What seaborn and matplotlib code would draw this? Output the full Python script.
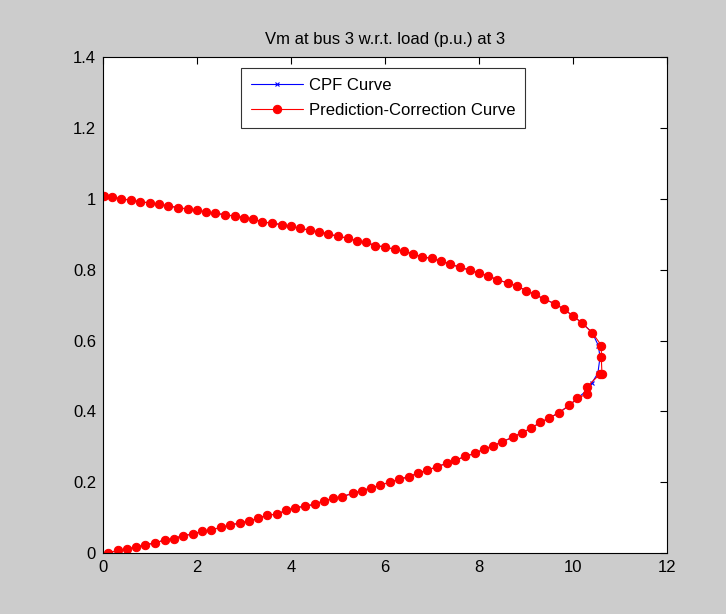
import numpy as np
import pandas as pd
import matplotlib
matplotlib.use("Agg")
import matplotlib.pyplot as plt
import seaborn as sns

# Prediction-Correction curve (load in p.u., voltage magnitude)
pc_load = [0.021, 0.198, 0.389, 0.589, 0.781, 1.000, 1.198, 1.389, 1.589, 1.802,
           2.000, 2.191, 2.389, 2.602, 2.802, 2.994, 3.191, 3.389, 3.602, 3.802,
           3.994, 4.185, 4.404, 4.602, 4.794, 4.994, 5.206, 5.404, 5.596, 5.794,
           6.006, 6.206, 6.398, 6.589, 6.787, 7.000, 7.198, 7.383, 7.589, 7.802,
           8.000, 8.198, 8.389, 8.611, 8.802, 9.000, 9.191, 9.389, 9.611, 9.802,
           9.994, 10.191, 10.411, 10.606, 10.602, 10.617, 10.574,
           10.291, 10.298, 10.096, 9.915, 9.709, 9.500, 9.302, 9.102, 8.909,
           8.717, 8.496, 8.304, 8.106, 7.915, 7.696, 7.496, 7.313, 7.106, 6.894,
           6.702, 6.511, 6.304, 6.113, 5.894, 5.702, 5.511, 5.313, 5.091, 4.900,
           4.702, 4.511, 4.291, 4.091, 3.904, 3.702, 3.496, 3.298, 3.100, 2.909,
           2.709, 2.504, 2.304, 2.113, 1.915, 1.702, 1.504, 1.313, 1.113, 0.894,
           0.702, 0.504, 0.313, 0.113]
pc_vm = [1.008, 1.004, 1.000, 0.996, 0.992, 0.988, 0.984, 0.980, 0.975, 0.971,
         0.967, 0.963, 0.959, 0.955, 0.951, 0.947, 0.943, 0.935, 0.931, 0.927,
         0.922, 0.917, 0.911, 0.906, 0.901, 0.894, 0.889, 0.881, 0.877, 0.868,
         0.864, 0.857, 0.852, 0.845, 0.836, 0.832, 0.824, 0.816, 0.807, 0.799,
         0.790, 0.783, 0.771, 0.763, 0.754, 0.741, 0.730, 0.717, 0.704, 0.689,
         0.670, 0.650, 0.622, 0.586, 0.553, 0.505, 0.505,
         0.469, 0.450, 0.437, 0.417, 0.397, 0.382, 0.369, 0.352, 0.340,
         0.327, 0.315, 0.303, 0.294, 0.282, 0.273, 0.262, 0.254, 0.244, 0.234,
         0.226, 0.216, 0.209, 0.201, 0.192, 0.184, 0.177, 0.169, 0.160, 0.155,
         0.148, 0.139, 0.132, 0.129, 0.121, 0.111, 0.107, 0.099, 0.090, 0.086,
         0.079, 0.073, 0.066, 0.062, 0.054, 0.050, 0.041, 0.038, 0.029, 0.024,
         0.017, 0.012, 0.008, 0.001]

# CPF curve (smoother around the nose)
cpf_load = [0.021, 0.198, 0.389, 0.589, 0.781, 1.000, 1.198, 1.389, 1.589, 1.802,
            2.000, 2.191, 2.389, 2.602, 2.802, 2.994, 3.191, 3.389, 3.602, 3.802,
            3.994, 4.185, 4.404, 4.602, 4.794, 4.994, 5.206, 5.404, 5.596, 5.794,
            6.006, 6.206, 6.398, 6.589, 6.787, 7.000, 7.198, 7.383, 7.589, 7.802,
            8.000, 8.198, 8.389, 8.611, 8.802, 9.000, 9.191, 9.389, 9.611, 9.802,
            9.994, 10.191, 10.411, 10.540, 10.575, 10.530, 10.400,
            10.280, 10.096, 9.915, 9.709, 9.500, 9.302, 9.102, 8.909,
            8.717, 8.496, 8.304, 8.106, 7.915, 7.696, 7.496, 7.313, 7.106, 6.894,
            6.702, 6.511, 6.304, 6.113, 5.894, 5.702, 5.511, 5.313, 5.091, 4.900,
            4.702, 4.511, 4.291, 4.091, 3.904, 3.702, 3.496, 3.298, 3.100, 2.909,
            2.709, 2.504, 2.304, 2.113, 1.915, 1.702, 1.504, 1.313, 1.113, 0.894,
            0.702, 0.504, 0.313, 0.113]
cpf_vm = [1.008, 1.004, 1.000, 0.996, 0.992, 0.988, 0.984, 0.980, 0.975, 0.971,
          0.967, 0.963, 0.959, 0.955, 0.951, 0.947, 0.943, 0.935, 0.931, 0.927,
          0.922, 0.917, 0.911, 0.906, 0.901, 0.894, 0.889, 0.881, 0.877, 0.868,
          0.864, 0.857, 0.852, 0.845, 0.836, 0.832, 0.824, 0.816, 0.807, 0.799,
          0.790, 0.783, 0.771, 0.763, 0.754, 0.741, 0.730, 0.717, 0.704, 0.689,
          0.670, 0.650, 0.622, 0.586, 0.553, 0.508, 0.480,
          0.458, 0.437, 0.417, 0.397, 0.382, 0.369, 0.352, 0.340,
          0.327, 0.315, 0.303, 0.294, 0.282, 0.273, 0.262, 0.254, 0.244, 0.234,
          0.226, 0.216, 0.209, 0.201, 0.192, 0.184, 0.177, 0.169, 0.160, 0.155,
          0.148, 0.139, 0.132, 0.129, 0.121, 0.111, 0.107, 0.099, 0.090, 0.086,
          0.079, 0.073, 0.066, 0.062, 0.054, 0.050, 0.041, 0.038, 0.029, 0.024,
          0.017, 0.012, 0.008, 0.001]

x_ticks = [0, 2, 4, 6, 8, 10, 12]
x_tick_labels = ["0", "2", "4", "6", "8", "10", "12"]
y_ticks = [0, 0.2, 0.4, 0.6, 0.8, 1.0, 1.2, 1.4]
y_tick_labels = ["0", "0.2", "0.4", "0.6", "0.8", "1", "1.2", "1.4"]

cpf = pd.DataFrame({"load": cpf_load, "vm": cpf_vm})
pc = pd.DataFrame({"load": pc_load, "vm": pc_vm})

sns.set_style("white")
plt.rcParams["font.family"] = ["Liberation Sans", "DejaVu Sans"]
plt.rcParams["text.color"] = "black"

fig = plt.figure(figsize=(7.26, 6.14), dpi=100, facecolor="#cccccc")
ax = fig.add_axes([0.1419, 0.0989, 0.7768, 0.8083])
ax.set_facecolor("white")

sns.lineplot(data=cpf, x="load", y="vm", sort=False, estimator=None, ax=ax,
             color="blue", lw=0.8, marker="x", markersize=3.5, mew=0.8,
             mec="blue", label="CPF Curve")
sns.lineplot(data=pc, x="load", y="vm", sort=False, estimator=None, ax=ax,
             color="red", lw=0.8, marker="o", markersize=6, mec="red",
             mfc="red", label="Prediction-Correction Curve")

ax.set_xlim(0, 12)
ax.set_ylim(0, 1.4)
ax.set_xticks(x_ticks)
ax.set_xticklabels(x_tick_labels)
ax.set_yticks(y_ticks)
ax.set_yticklabels(y_tick_labels)
ax.set_xlabel("")
ax.set_ylabel("")
ax.tick_params(direction="in", length=5, width=0.8, labelsize=12,
               top=True, right=True, colors="black", pad=5)
for sp in ax.spines.values():
    sp.set_visible(True)
    sp.set_color("black")
    sp.set_linewidth(0.8)

ax.set_title("Vm at bus 3 w.r.t. load (p.u.) at 3", fontsize=12, pad=9,
             color="black")

leg = ax.legend(loc="upper center", bbox_to_anchor=(0.497, 0.978), fontsize=12,
                frameon=True, fancybox=False, edgecolor="black",
                handlelength=3.1, borderpad=0.6, labelspacing=0.62,
                handletextpad=0.36, borderaxespad=0)
leg.get_frame().set_linewidth(0.8)
for t in leg.get_texts():
    t.set_color("black")

fig.savefig("out.png", dpi=100, facecolor=fig.get_facecolor())
